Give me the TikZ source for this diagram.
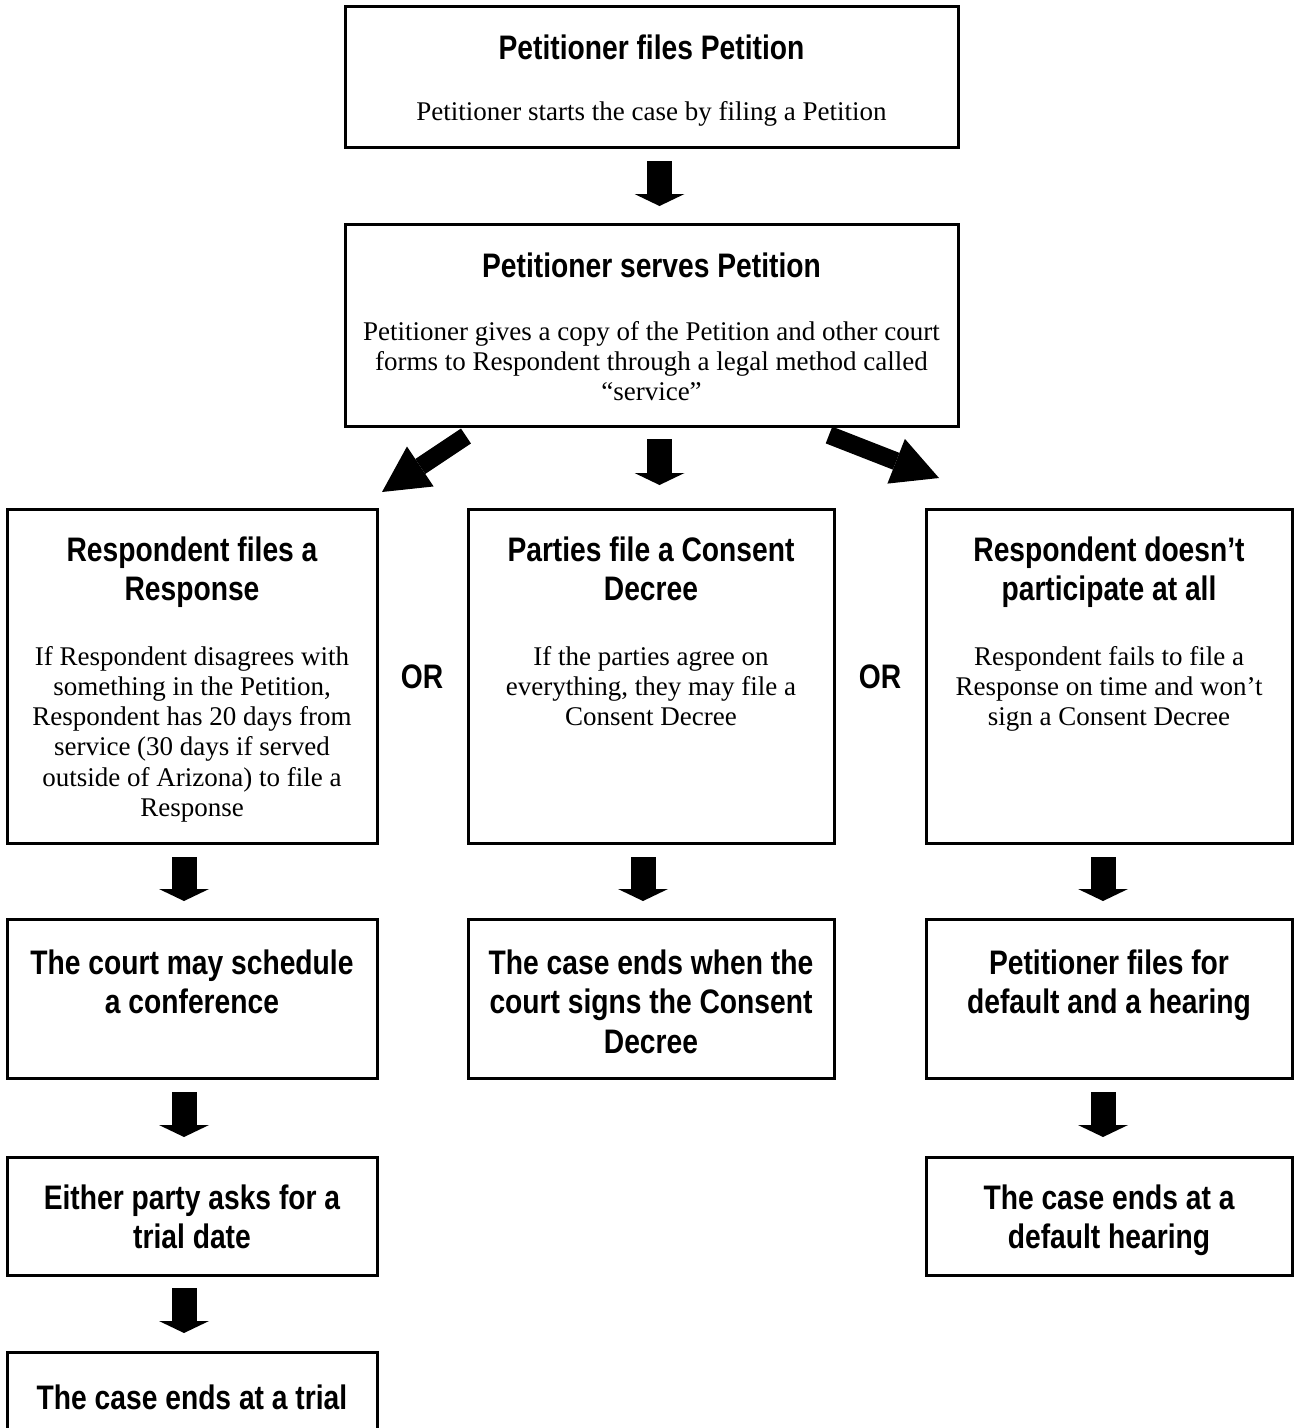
\documentclass[tikz,border=0pt]{standalone}
\usepackage{fontspec}
\setmainfont{Liberation Serif}
\newfontfamily\ttlfont[FakeStretch=0.83]{Liberation Sans}
\usetikzlibrary{arrows.meta}
\newcommand\tstr{\rule{0pt}{30pt}}
\newcommand\bstr{\rule{0pt}{24pt}}
\tikzset{
  box/.style={draw, line width=3pt, inner sep=0pt, outer sep=0pt},
  ttl/.style={font=\ttlfont\bfseries\fontsize{34}{39.5}\selectfont, align=center, inner sep=0pt, anchor=north},
  bdy/.style={font=\fontsize{27}{30.2}\selectfont, align=center, inner sep=0pt, anchor=north},
  orlbl/.style={font=\ttlfont\bfseries\fontsize{34}{39.5}\selectfont, inner sep=0pt, anchor=base},
  fatdown/.style={line width=25pt, -{Triangle[length=12pt,width=50pt,line width=0pt]}},
  fatdiag/.style={line width=18pt, -{Triangle[length=46pt,width=48pt,line width=0pt]}},
}
\begin{document}
\begin{tikzpicture}[x=1pt,y=-1pt]
\useasboundingbox (0,0) rectangle (1294,1428);
\clip (0,0) rectangle (1294,1428);
% boxes
\node[box, minimum width=613, minimum height=141] (b1) at (651.5,76.5) {};
\node[box, minimum width=613, minimum height=202] (b2) at (651.5,325) {};
\node[box, minimum width=370, minimum height=334] (L3) at (192,676) {};
\node[box, minimum width=366, minimum height=334] (M3) at (651,676) {};
\node[box, minimum width=366, minimum height=334] (R3) at (1109,676) {};
\node[box, minimum width=370, minimum height=159] (L4) at (192,998.5) {};
\node[box, minimum width=366, minimum height=159] (M4) at (651,998.5) {};
\node[box, minimum width=366, minimum height=159] (R4) at (1109,998.5) {};
\node[box, minimum width=370, minimum height=118] (L5) at (192,1216) {};
\node[box, minimum width=366, minimum height=118] (R5) at (1109,1216) {};
\node[box, minimum width=370, minimum height=148] (L6) at (192,1426) {};
% texts
\node[ttl] (b1t) at (651.5,29) {\tstr Petitioner files Petition};
\node[bdy] (b1b) at (651.5,96) {\bstr Petitioner starts the case by filing a Petition};
\node[ttl] (b2t) at (651.5,247) {\tstr Petitioner serves Petition};
\node[bdy] (b2b) at (651.5,316) {\bstr Petitioner gives a copy of the Petition and other court\\forms to Respondent through a legal method called\\“service”};
\node[ttl] (L3t) at (192,531) {\tstr Respondent files a\\Response};
\node[bdy] (L3b) at (192,641) {\bstr If Respondent disagrees with\\something in the Petition,\\Respondent has 20 days from\\service (30 days if served\\outside of Arizona) to file a\\Response};
\node[ttl] (M3t) at (651,531) {\tstr Parties file a Consent\\Decree};
\node[bdy] (M3b) at (651,641) {\bstr If the parties agree on\\everything, they may file a\\Consent Decree};
\node[ttl] (R3t) at (1109,531) {\tstr Respondent doesn’t\\participate at all};
\node[bdy] (R3b) at (1109,641) {\bstr Respondent fails to file a\\Response on time and won’t\\sign a Consent Decree};
\node[orlbl] (or1) at (422,688) {OR};
\node[orlbl] (or2) at (880,688) {OR};
\node[ttl] (L4t) at (192,944) {\tstr The court may schedule\\a conference};
\node[ttl] (M4t) at (651,944) {\tstr The case ends when the\\court signs the Consent\\Decree};
\node[ttl] (R4t) at (1109,944) {\tstr Petitioner files for\\default and a hearing};
\node[ttl] (L5t) at (192,1179) {\tstr Either party asks for a\\trial date};
\node[ttl] (R5t) at (1109,1179) {\tstr The case ends at a\\default hearing};
\node[ttl] (L6t) at (192,1379) {\tstr The case ends at a trial};
% connectors
\draw[fatdown, shorten <=14pt, shorten >=18pt] ([xshift=8pt]b1.south) -- ([xshift=8pt]b2.north);
\draw[fatdown, shorten <=13pt, shorten >=24pt] ([xshift=8pt]b2.south) -- ([xshift=8pt]b2.south |- M3.north);
\draw[fatdown, shorten <=14pt, shorten >=18pt] ([xshift=-8pt]M3.south) -- ([xshift=-8pt]M4.north);
\draw[fatdown, shorten <=14pt, shorten >=18pt] ([xshift=-8pt]L3.south) -- ([xshift=-8pt]L4.north);
\draw[fatdown, shorten <=14pt, shorten >=18pt] ([xshift=-6pt]R3.south) -- ([xshift=-6pt]R4.north);
\draw[fatdown, shorten <=14pt, shorten >=20pt] ([xshift=-8pt]L4.south) -- ([xshift=-8pt]L5.north);
\draw[fatdown, shorten <=14pt, shorten >=20pt] ([xshift=-6pt]R4.south) -- ([xshift=-6pt]R5.north);
\draw[fatdown, shorten <=13pt, shorten >=19pt] ([xshift=-8pt]L5.south) -- ([xshift=-8pt]L6.north);
\coordinate (dlt) at (466,436);
\coordinate (dlh) at (382,492);
\coordinate (drt) at (829,435);
\coordinate (drh) at (939,478);
\draw[fatdiag] (dlt) -- (dlh);
\draw[fatdiag] (drt) -- (drh);
\end{tikzpicture}
\end{document}
